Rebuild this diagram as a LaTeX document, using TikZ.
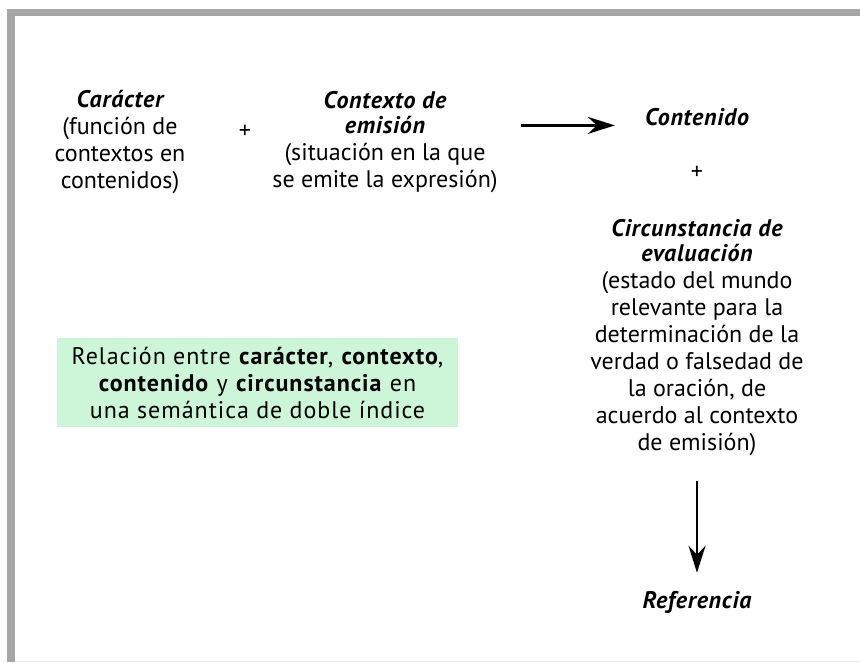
\documentclass[tikz,border=0pt]{standalone}
\usepackage{fontspec}
\setmainfont{PT Sans}
\usetikzlibrary{arrows.meta}
\definecolor{framegray}{RGB}{166,166,166}
\definecolor{boxgreen}{RGB}{205,245,216}
\begin{document}
\begin{tikzpicture}[x=1pt,y=-1pt,
  txt/.style={align=center,inner sep=0pt,font=\fontsize{24}{27}\selectfont},
  ttlfont/.style={font=\fontsize{24}{27}\selectfont\bfseries\itshape\addfontfeatures{LetterSpace=3}},
  arr/.style={line width=2.6pt,-{Stealth[length=27pt,width=17pt,inset=9pt]}}]
\useasboundingbox (0,0) rectangle (860,662);
\fill[white] (0,0) rectangle (860,662);
\fill[framegray] (7,9) rectangle (860,16);
\fill[framegray] (7,9) rectangle (15,662);
\draw[black!7,line width=1pt] (15,661) -- (860,661);

\node[txt] (car) at (120,142) {{\bfseries\itshape\addfontfeatures{LetterSpace=3}Carácter}\\(función de\\contextos en\\contenidos)};
\node[txt] (plusA) at (245,132) {+};
\node[txt] (ctx) at (385,142) {{\bfseries\itshape\addfontfeatures{LetterSpace=3}Contexto de}\\[-2pt]{\bfseries\itshape\addfontfeatures{LetterSpace=3}emisión}\\(situación en la que\\se emite la expresión)};
\node[txt,ttlfont] (cont) at (697,117) {Contenido};
\node[txt] (plusB) at (697,173) {+};
\node[txt] (circ) at (697,338) {{\bfseries\itshape\addfontfeatures{LetterSpace=3}Circunstancia de}\\[-2pt]{\bfseries\itshape\addfontfeatures{LetterSpace=3}evaluación}\\(estado del mundo\\relevante para la\\determinación de la\\verdad o falsedad de\\la oración, de\\acuerdo al contexto\\de emisión)};
\node[txt,ttlfont] (ref) at (697,602) {Referencia};

\node[fill=boxgreen,minimum width=401pt,minimum height=89pt,inner sep=0pt,align=center,font=\fontsize{24}{27}\selectfont\addfontfeatures{LetterSpace=4}] (rel) at (257.5,382.5)
  {Relación entre \textbf{carácter}, \textbf{contexto},\\\textbf{contenido} y \textbf{circunstancia} en\\una semántica de doble índice};

\draw[arr] ([xshift=23pt]ctx.east |- cont.base) -- ([xshift=-30pt]cont.base west);
\draw[arr] ([yshift=-25pt]circ.south) -- ([yshift=18pt]ref.north);
\end{tikzpicture}
\end{document}
